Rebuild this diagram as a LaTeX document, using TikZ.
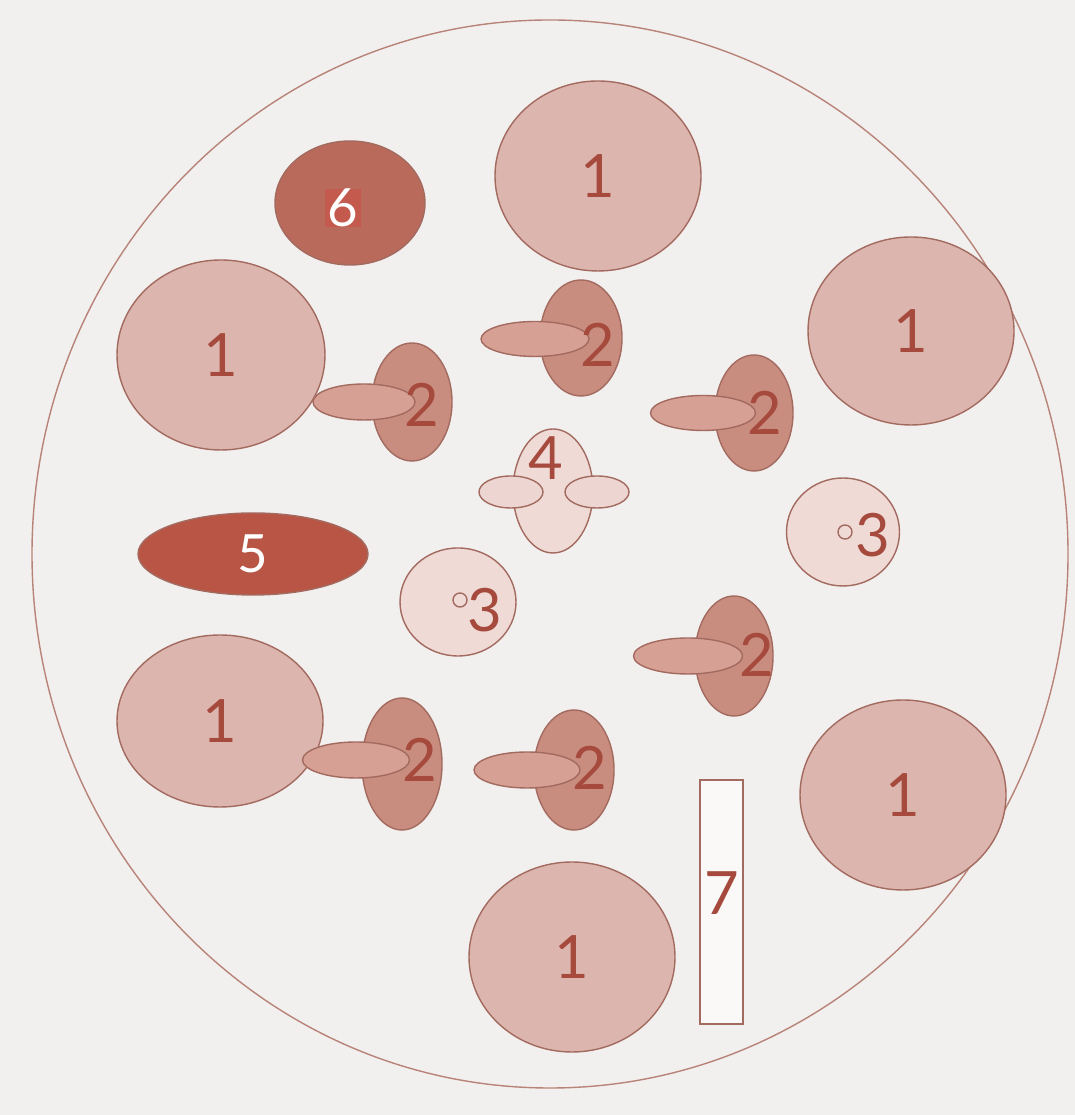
\documentclass[tikz,border=0pt]{standalone}
\usepackage{fontspec}
\setmainfont{Lato}
\usetikzlibrary{shapes.geometric}
\definecolor{bgc}{HTML}{F2F0EE}
\definecolor{rim}{HTML}{B88378}
\definecolor{edge}{HTML}{A36A60}
\definecolor{pinkA}{HTML}{DCB6AE}
\definecolor{pinkB}{HTML}{C98D80}
\definecolor{pinkC}{HTML}{D6A194}
\definecolor{pinkD}{HTML}{EFDAD6}
\definecolor{rustA}{HTML}{B96A5B}
\definecolor{rustB}{HTML}{B95544}
\definecolor{ink}{HTML}{A54A3C}
\begin{document}
\begin{tikzpicture}[
  font=\fontsize{17}{19}\selectfont,
  blob/.style={ellipse, draw=edge, thin, inner sep=0pt, text=ink},
  bigcell/.style={blob, fill=pinkA, minimum width=2.06cm, minimum height=1.9cm},
  vcell/.style={blob, fill=pinkB, minimum width=0.8cm, minimum height=1.18cm},
  hcell/.style={blob, fill=pinkC, minimum width=1.06cm, minimum height=0.36cm},
  lbl/.style={text=ink, inner sep=0pt}]
  \useasboundingbox (0,0) rectangle (10.75,11.15);
  \fill[bgc] (0,0) rectangle (10.75,11.15);
  \draw[rim, thin] (5.50,5.61) ellipse [x radius=5.18, y radius=5.34];
  % large cells
  \node[bigcell] (oneT)  at (5.98,9.39) {1};
  \node[bigcell, minimum width=2.08cm] (oneUL) at (2.21,7.60) {1};
  \node[bigcell, minimum height=1.88cm] (oneR)  at (9.11,7.84) {1};
  \node[bigcell, minimum height=1.72cm] (oneLL) at (2.20,3.94) {1};
  \node[bigcell] (oneLR) at (9.03,3.20) {1};
  \node[bigcell] (oneB)  at (5.72,1.58) {1};
  % dark ones
  \node[blob, fill=rustA, minimum width=1.5cm, minimum height=1.24cm] (six) at (3.50,9.12) {};
  \node[fill=rustA!85!red, minimum size=0.36cm, inner sep=0pt, text=white,
    font=\fontsize{15}{17}\selectfont] (sixlbl) at (3.43,9.07) {6};
  \node[blob, fill=rustB, minimum width=2.3cm, minimum height=0.82cm, text=white,
    font=\fontsize{15}{17}\selectfont] (five) at (2.53,5.61) {5};
  % paired cells
  \node[vcell, minimum width=0.82cm, minimum height=1.16cm] (twoAv) at (5.81,7.77) {};
  \node[hcell, minimum width=1.08cm, minimum height=0.35cm] (twoAh) at (5.35,7.76) {};
  \node[lbl] (twoA) at (5.98,7.70) {2};
  \node[vcell] (twoBv) at (4.12,7.13) {};
  \node[hcell, minimum width=1.02cm] (twoBh) at (3.64,7.13) {};
  \node[lbl] (twoB) at (4.22,7.10) {2};
  \node[vcell, minimum width=0.78cm, minimum height=1.16cm] (twoCv) at (7.54,7.02) {};
  \node[hcell, minimum width=1.05cm, minimum height=0.35cm] (twoCh) at (7.03,7.02) {};
  \node[lbl] (twoC) at (7.65,7.02) {2};
  \node[vcell, minimum width=0.78cm, minimum height=1.2cm] (twoDv) at (7.34,4.59) {};
  \node[hcell, minimum width=1.09cm] (twoDh) at (6.88,4.59) {};
  \node[lbl] (twoD) at (7.57,4.60) {2};
  \node[vcell, minimum height=1.32cm] (twoEv) at (4.02,3.51) {};
  \node[hcell, minimum width=1.07cm] (twoEh) at (3.56,3.55) {};
  \node[lbl] (twoE) at (4.20,3.55) {2};
  \node[vcell, minimum height=1.2cm] (twoFv) at (5.74,3.45) {};
  \node[hcell] (twoFh) at (5.27,3.45) {};
  \node[lbl] (twoF) at (5.90,3.47) {2};
  % cell 4
  \node[blob, fill=pinkD, minimum width=0.8cm, minimum height=1.24cm] (four) at (5.53,6.24) {};
  \node[blob, fill=pinkD!90!pinkA, minimum width=0.64cm, minimum height=0.32cm] (fourL) at (5.11,6.23) {};
  \node[blob, fill=pinkD!90!pinkA, minimum width=0.64cm, minimum height=0.32cm] (fourR) at (5.97,6.23) {};
  \node[lbl] (fourlbl) at (5.46,6.57) {4};
  % cells 3
  \node[blob, fill=pinkD, minimum width=1.16cm, minimum height=1.08cm] (threeL) at (4.58,5.13) {};
  \node[circle, draw=edge, thin, minimum size=0.14cm, inner sep=0pt] (dotL) at (4.60,5.15) {};
  \node[lbl] (threeLlbl) at (4.85,5.05) {3};
  \node[blob, fill=pinkD, minimum width=1.13cm, minimum height=1.08cm] (threeR) at (8.43,5.83) {};
  \node[circle, draw=edge, thin, minimum size=0.14cm, inner sep=0pt] (dotR) at (8.45,5.83) {};
  \node[lbl] (threeRlbl) at (8.73,5.80) {3};
  % bar 7
  \draw[edge, thin, fill=white!60!bgc] (7.00,0.91) rectangle (7.43,3.35);
  \node[lbl] (seven) at (7.22,2.22) {7};
\end{tikzpicture}
\end{document}
